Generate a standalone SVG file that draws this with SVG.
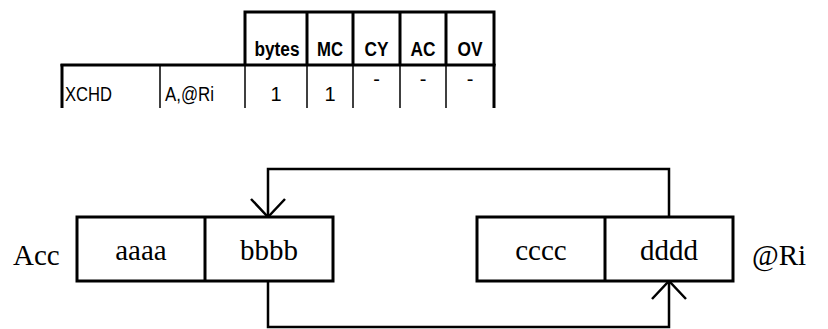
<svg xmlns="http://www.w3.org/2000/svg" width="828" height="329" viewBox="0 0 828 329">
  <style>
    .thick { stroke: #000; stroke-width: 3; fill: none; }
    .thin { stroke: #000; stroke-width: 1.5; fill: none; }
    .hdr { font-family: "Liberation Sans", Arial, sans-serif; font-weight: bold; font-size: 20px; text-anchor: middle; }
    .cell { font-family: "Liberation Sans", Arial, sans-serif; font-size: 20px; }
    .mid { text-anchor: middle; }
    .reg { stroke: #000; stroke-width: 3; fill: #fff; }
    .lbl { font-family: "Liberation Serif", "Times New Roman", serif; font-size: 29px; }
    .wire { stroke: #000; stroke-width: 2.5; fill: none; }
  </style>
  <defs>
    <marker id="vee" viewBox="0 0 20 40" refX="19" refY="20" markerWidth="20" markerHeight="40" markerUnits="userSpaceOnUse" orient="auto">
      <path d="M1,3 L19,20 L1,37" stroke="#000" stroke-width="2.5" fill="none"/>
    </marker>
  </defs>

  <!-- instruction table (condensed lettering) -->
  <g id="table">
    <!-- header block -->
    <path class="thick" d="M245,65 V12 H494 V65"/>
    <line class="thick" x1="307" y1="12" x2="307" y2="65"/>
    <line class="thick" x1="353" y1="12" x2="353" y2="65"/>
    <line class="thick" x1="400" y1="12" x2="400" y2="65"/>
    <line class="thick" x1="446" y1="12" x2="446" y2="65"/>
    <text class="hdr" x="277" y="56" textLength="45" lengthAdjust="spacingAndGlyphs">bytes</text>
    <text class="hdr" x="330" y="56" textLength="26" lengthAdjust="spacingAndGlyphs">MC</text>
    <text class="hdr" x="376.5" y="56" textLength="24" lengthAdjust="spacingAndGlyphs">CY</text>
    <text class="hdr" x="423" y="56" textLength="25" lengthAdjust="spacingAndGlyphs">AC</text>
    <text class="hdr" x="470" y="56" textLength="25" lengthAdjust="spacingAndGlyphs">OV</text>
    <!-- instruction row -->
    <line class="thick" x1="60.5" y1="65" x2="495.5" y2="65"/>
    <line class="thick" x1="62" y1="64" x2="62" y2="108"/>
    <line class="thick" x1="494" y1="64" x2="494" y2="108"/>
    <line class="thin" x1="160" y1="65" x2="160" y2="108"/>
    <line class="thin" x1="245" y1="65" x2="245" y2="108"/>
    <line class="thin" x1="307" y1="65" x2="307" y2="108"/>
    <line class="thin" x1="353" y1="65" x2="353" y2="108"/>
    <line class="thin" x1="400" y1="65" x2="400" y2="108"/>
    <line class="thin" x1="446" y1="65" x2="446" y2="108"/>
    <text class="cell" x="65" y="101" textLength="47" lengthAdjust="spacingAndGlyphs">XCHD</text>
    <text class="cell" x="165" y="101" textLength="49" lengthAdjust="spacingAndGlyphs">A,@Ri</text>
    <text class="cell mid" x="276" y="101">1</text>
    <text class="cell mid" x="330" y="101">1</text>
    <text class="cell mid" x="376.5" y="86">-</text>
    <text class="cell mid" x="423" y="86">-</text>
    <text class="cell mid" x="470" y="86">-</text>
  </g>

  <!-- accumulator register -->
  <g id="acc">
    <rect class="reg" x="77" y="217" width="256" height="64"/>
    <line class="reg" x1="205" y1="217" x2="205" y2="281"/>
    <text class="lbl" x="13" y="265">Acc</text>
    <text class="lbl mid" x="141" y="260">aaaa</text>
    <text class="lbl mid" x="269" y="260">bbbb</text>
  </g>

  <!-- indirect RAM operand -->
  <g id="ri">
    <rect class="reg" x="477" y="217" width="256" height="64"/>
    <line class="reg" x1="605" y1="217" x2="605" y2="281"/>
    <text class="lbl mid" x="541" y="260">cccc</text>
    <text class="lbl mid" x="669" y="260">dddd</text>
    <text class="lbl" x="752" y="265">@Ri</text>
  </g>

  <!-- low-nibble exchange paths -->
  <g id="connectors">
    <path class="wire" d="M669,217 V169 H268 V217" marker-end="url(#vee)"/>
    <path class="wire" d="M268,281 V327 H669 V281" marker-end="url(#vee)"/>
  </g>
</svg>
